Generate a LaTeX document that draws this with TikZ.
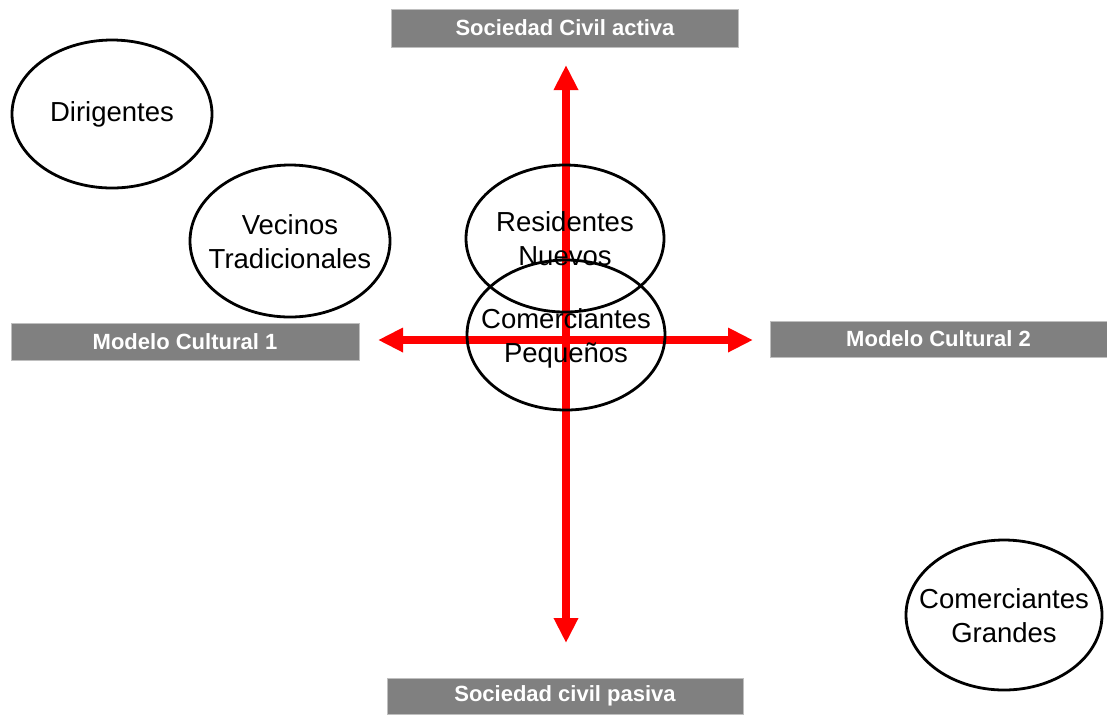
\documentclass[tikz,border=0pt]{standalone}
\usepackage{fontspec}
\setmainfont{Liberation Sans}
\usepackage{tikz}
\usetikzlibrary{shapes.geometric, arrows.meta}
\definecolor{grisbarra}{HTML}{808080}
\definecolor{bordebarra}{HTML}{BFBFBF}
\tikzstyle{barra} = [rectangle, fill=grisbarra, draw=bordebarra, line width=0.5pt, inner sep=0pt, text=white, font=\fontsize{11}{13}\selectfont\bfseries]
\tikzstyle{actor} = [ellipse, draw=black, line width=1.4pt, inner sep=0pt, font=\fontsize{13.75}{17}\selectfont]
\tikzstyle{eje} = [draw=red, line width=4pt, {Triangle[length=12.5pt,width=11.5pt]}-{Triangle[length=12.5pt,width=11.5pt]}]
\newcommand{\dosrenglones}[2]{\makebox[0pt]{\raisebox{-1.8pt}[\height][\depth]{\begin{tabular}{@{}c@{}}#1\\#2\end{tabular}}}}

\begin{document}
\begin{tikzpicture}[x=0.5pt, y=-0.5pt]

        \useasboundingbox (0,0) rectangle (1107,714);

        \node (activa) [barra, minimum width=173.5pt, minimum height=19pt] at (565,28) {Sociedad Civil activa};
        \node (pasiva) [barra, minimum width=178pt, minimum height=18pt] at (565,696) {Sociedad civil pasiva};
        \node (modelo1) [barra, minimum width=174pt, minimum height=18.5pt] at (185,341.5) {Modelo Cultural 1};
        \node (modelo2) [barra, minimum width=168.5pt, minimum height=18pt] at (938.5,339) {Modelo Cultural 2};

        \coordinate (arriba) at (566,65);
        \coordinate (abajo) at (566,643);
        \coordinate (izquierda) at (378,340);
        \coordinate (derecha) at (753,340);

        \draw[eje] (arriba) -- (abajo);
        \draw[eje] (izquierda) -- (derecha);

        \node (dirigentes) [actor, minimum width=100pt, minimum height=74pt] at (112,114) {\makebox[0pt]{Dirigentes}};
        \node (vecinos) [actor, minimum width=100pt, minimum height=76pt] at (290,241) {\dosrenglones{Vecinos}{Tradicionales}};
        \node (residentes) [actor, minimum width=99pt, minimum height=73.5pt] at (565,238.5) {\dosrenglones{Residentes}{Nuevos}};
        \node (pequenos) [actor, minimum width=99pt, minimum height=75pt] at (566,335) {\dosrenglones{Comerciantes}{Pequeños}};
        \node (grandes) [actor, minimum width=98pt, minimum height=75pt] at (1004,615) {\dosrenglones{Comerciantes}{Grandes}};

    \end{tikzpicture}
\end{document}
